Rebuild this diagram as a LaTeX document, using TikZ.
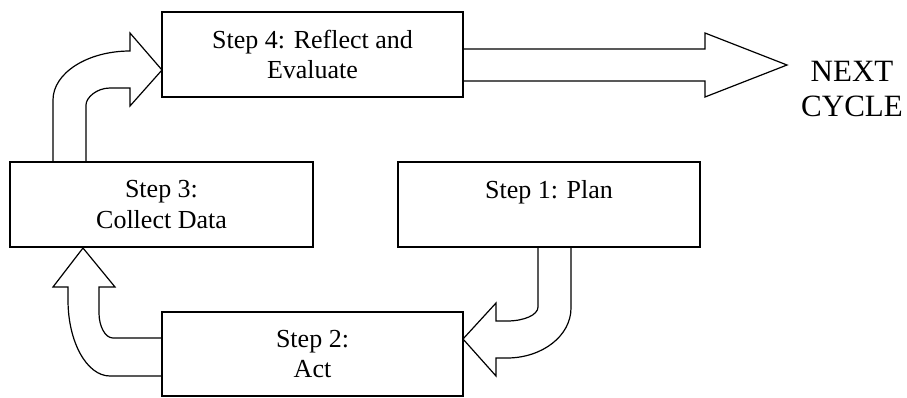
\documentclass[tikz,border=0pt]{standalone}
\usepackage{fontspec}
\setmainfont{Liberation Serif}
\pgfdeclarelayer{background}
\pgfsetlayers{background,main}
\begin{document}
\begin{tikzpicture}[x=1pt,y=-1pt,
  stepbox/.style={draw=black,line width=1.3pt,fill=white,inner sep=0pt,outer sep=0pt,
    align=center,font=\fontsize{26}{30.5}\selectfont},
  blockarrow/.style={draw=black,line width=1.2pt,fill=white,line join=miter}]
\useasboundingbox (0,0) rectangle (907,397);

% boxes
\node[stepbox,minimum width=301pt,minimum height=85pt] (s4) at (312.5,54.5) {Step 4: Reflect and\\Evaluate};
\node[stepbox,minimum width=303pt,minimum height=85pt] (s3) at (161.5,204.5) {Step 3:\\Collect Data};
\node[stepbox,minimum width=302pt,minimum height=85pt] (s1) at (549,204.5) {Step 1: Plan\\\mbox{}};
\node[stepbox,minimum width=301pt,minimum height=84pt] (s2) at (312.5,354) {Step 2:\\Act};
\node[align=center,font=\fontsize{31}{35}\selectfont,inner sep=0pt] (next) at (852,89.3) {NEXT\\CYCLE};

\begin{pgfonlayer}{background}
\fill[white] (0,0) rectangle (907,397);

% arrow Step 3 -> Step 4
\draw[blockarrow] (53,162) -- (53,100) .. controls (53,73) and (87.5,51) .. (130,51)
  -- (130,33) -- (162,70) -- (130,106) -- (130,88) -- (110,88)
  .. controls (96.7,88) and (86,97.6) .. (86,105) -- (86,162);

% arrow Step 2 -> Step 3
\draw[blockarrow] (162,376) -- (110,376) .. controls (86.8,376) and (68,342) .. (68,300)
  -- (68,287) -- (53,287) -- (83,248) -- (115,287) -- (99,287) -- (99,313)
  .. controls (99,326) and (105,338) .. (113,338) -- (162,338);

% arrow Step 1 -> Step 2
\draw[blockarrow] (538,247) -- (538,307) .. controls (538,315) and (524,321) .. (507,321)
  -- (496,321) -- (496,303) -- (463,339) -- (496,376) -- (496,358) -- (507,358)
  .. controls (542,358) and (571,336) .. (571,308) -- (571,247);

% arrow Step 4 -> next cycle
\draw[blockarrow] (463,49) -- (705,49) -- (705,33) -- (787,65) -- (705,97) -- (705,81) -- (463,81);
\end{pgfonlayer}
\end{tikzpicture}
\end{document}
